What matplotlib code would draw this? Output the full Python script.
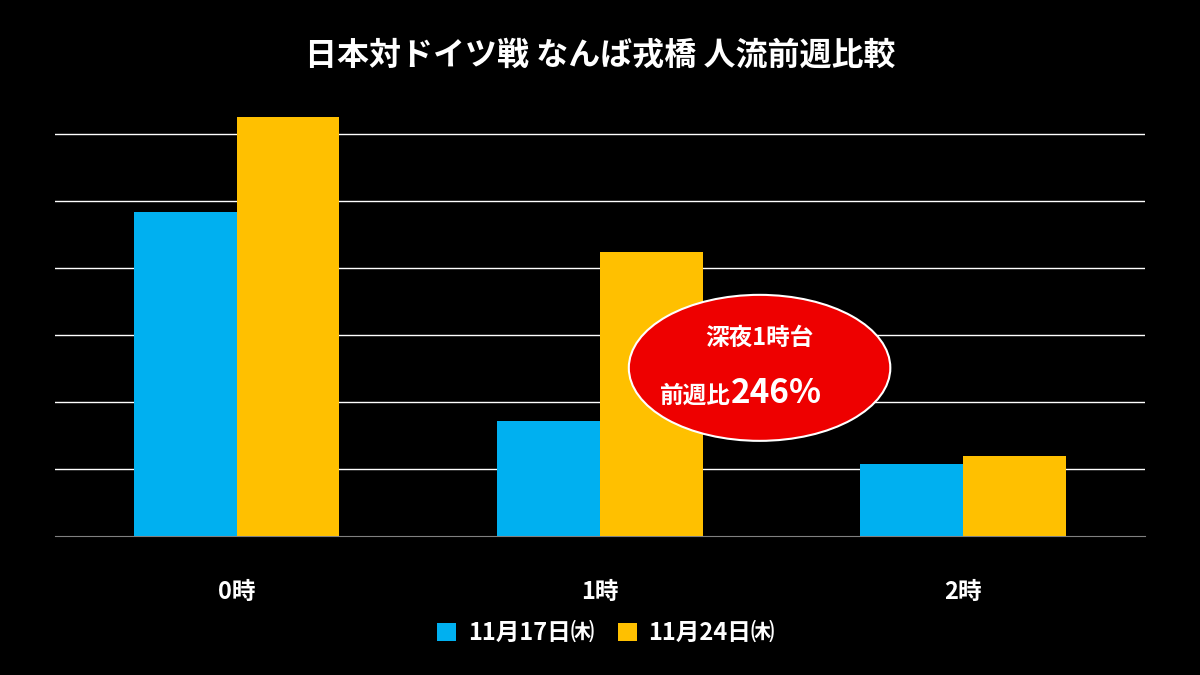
import matplotlib
matplotlib.use("Agg")
import matplotlib.pyplot as plt
from matplotlib.patches import Ellipse
import numpy as np

plt.rcParams['font.family'] = ['Noto Sans CJK JP', 'DejaVu Sans']

categories = ["0時", "1時", "2時"]
series_names = ["11月17日㈭", "11月24日㈭"]
week1 = [4.84, 1.72, 1.07]
week2 = [6.25, 4.24, 1.19]
colors = ["#00B0F0", "#FFC000"]

fig = plt.figure(figsize=(12, 6.75), dpi=100, facecolor="black")
ax = fig.add_axes([0.0458, 0.206, 0.908, 0.635], facecolor="black")
x = np.arange(len(categories))
w = 0.283
ax.bar(x - w/2, week1, w, color=colors[0], label=series_names[0], zorder=3)
ax.bar(x + w/2, week2, w, color=colors[1], label=series_names[1], zorder=3)
ax.set_xlim(-0.5, 2.5)
ax.set_ylim(0, 6.4)
ax.set_yticks([1, 2, 3, 4, 5, 6])
ax.yaxis.grid(True, color="white", linewidth=1, zorder=0)
ax.tick_params(axis='y', left=False, labelleft=False)
ax.tick_params(axis='x', bottom=False, pad=28)
ax.set_xticks(x)
ax.set_xticklabels(categories, color="white", fontsize=17, fontweight="bold")
for s in ["top", "right", "left"]:
    ax.spines[s].set_visible(False)
ax.spines["bottom"].set_color("#808080")

ell = Ellipse((1.44, 2.51), 0.72, 2.18, facecolor="#EE0000", edgecolor="white", linewidth=1.5, zorder=5)
ax.add_patch(ell)
ax.text(1.44, 2.95, "深夜1時台", color="white", fontsize=17, fontweight="bold", ha="center", va="center", zorder=6)
ax.text(1.36, 2.1, "前週比", color="white", fontsize=17, fontweight="bold", ha="right", va="center", zorder=6)
ax.text(1.36, 2.13, "246%", color="white", fontsize=24, fontweight="bold", ha="left", va="center", zorder=6)

fig.text(0.5, 0.918, "日本対ドイツ戦 なんば戎橋 人流前週比較", color="white", fontsize=23, fontweight="bold", ha="center", va="center")
leg = fig.legend(loc="center", bbox_to_anchor=(0.505, 0.062), ncol=2, frameon=False,
                 fontsize=17, handlelength=0.8, handleheight=0.8, columnspacing=1.0, handletextpad=0.5)
for t in leg.get_texts():
    t.set_color("white"); t.set_fontweight("bold")
fig.savefig("out.png", facecolor="black")
